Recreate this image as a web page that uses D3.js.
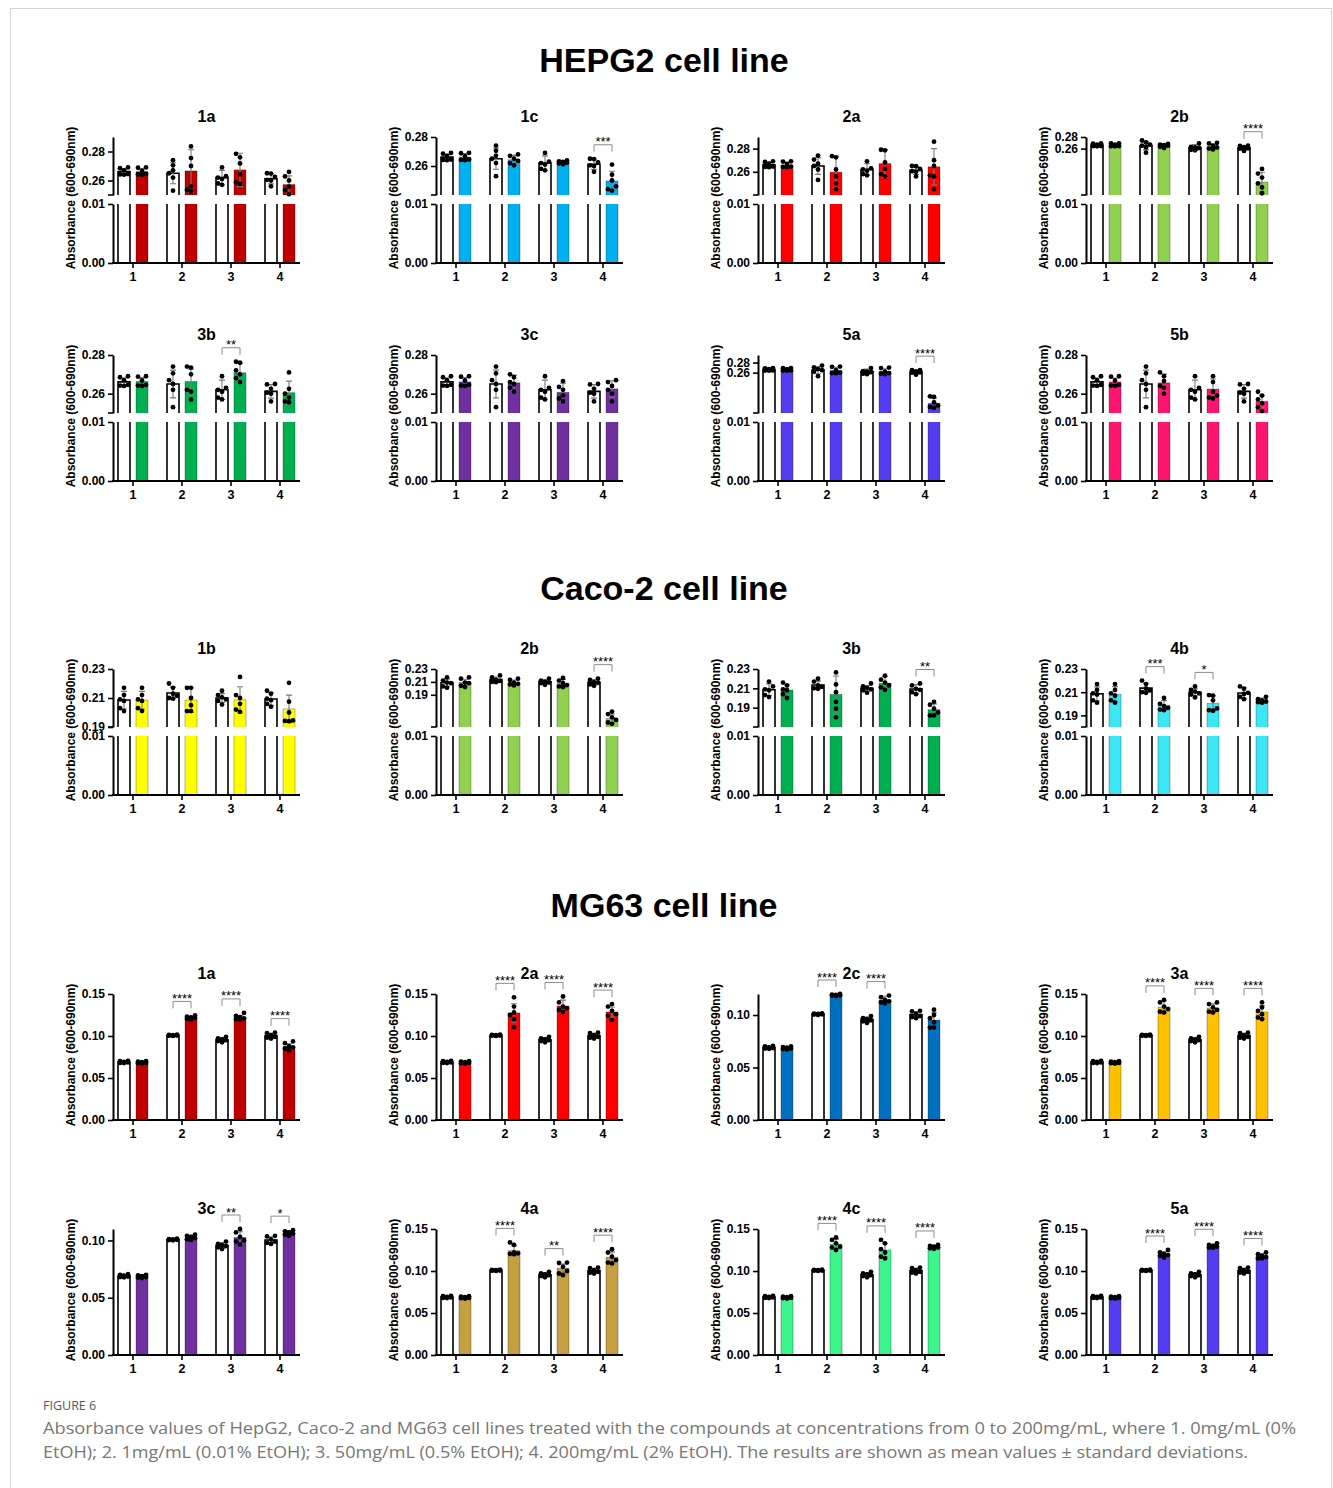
<!DOCTYPE html>
<html>
<head>
<meta charset="utf-8">
<script src="https://cdn.jsdelivr.net/npm/d3@7"></script>
<style>
  body { margin: 0; background: #fff; }
  svg { display: block; }
</style>
</head>
<body>
<svg id="fig" width="1333" height="1488"></svg>
<script>
var FONT = '"Liberation Sans", Arial, sans-serif';
var groups = ["1", "2", "3", "4"];

// ---------- HEPG2 ----------
var hepCtrlMean = [0.2661, 0.2650, 0.2620, 0.2612];
var hepCtrlSD = [0.0020, 0.0072, 0.0050, 0.0035];
var hepCtrlPts = [[0.2690, 0.2685, 0.2670, 0.2645, 0.2642, 0.2640],
                  [0.2740, 0.2705, 0.2670, 0.2650, 0.2620, 0.2530],
                  [0.2690, 0.2630, 0.2620, 0.2610, 0.2580, 0.2570],
                  [0.2650, 0.2648, 0.2625, 0.2605, 0.2600, 0.2560]];
var hepT1Pts = [0.2690, 0.2688, 0.2668, 0.2645, 0.2642, 0.2640];

var hep1aMean = [0.2661, 0.2666, 0.2673, 0.2572];
var hep1aSD = [0.0020, 0.0146, 0.0115, 0.0060];
var hep1aPts = [hepT1Pts, [0.2835, 0.2755, 0.2700, 0.2560, 0.2535, 0.2525],
                [0.2784, 0.2760, 0.2718, 0.2642, 0.2588, 0.2576], [0.2659, 0.2628, 0.2600, 0.2558, 0.2534, 0.2506]];
var hep1aSig = ["", "", "", ""];

var hep1cMean = [0.2661, 0.2643, 0.2625, 0.2497];
var hep1cSD = [0.0025, 0.0030, 0.0012, 0.0067];
var hep1cPts = [hepT1Pts, [0.2680, 0.2670, 0.2650, 0.2635, 0.2620, 0.2605],
                [0.2638, 0.2632, 0.2628, 0.2622, 0.2618, 0.2612], [0.2610, 0.2540, 0.2500, 0.2460, 0.2430, 0.2440]];
var hep1cSig = ["", "", "", "***"];

var hep2aMean = [0.2657, 0.2597, 0.2671, 0.2643];
var hep2aSD = [0.0022, 0.0136, 0.0120, 0.0157];
var hep2aPts = [hepT1Pts, [0.2735, 0.2725, 0.2620, 0.2560, 0.2500, 0.2450],
                [0.2790, 0.2785, 0.2680, 0.2625, 0.2580, 0.2560], [0.2860, 0.2700, 0.2650, 0.2570, 0.2560, 0.2450]];
var hep2aSig = ["", "", "", ""];

var hep2bMean = [0.2661, 0.2650, 0.2640, 0.2023];
var hep2bSD = [0.0020, 0.0030, 0.0035, 0.0170];
var hep2bPts = [hepT1Pts, [0.2680, 0.2670, 0.2660, 0.2650, 0.2630, 0.2610],
                [0.2700, 0.2690, 0.2650, 0.2620, 0.2600, 0.2585], [0.2250, 0.2170, 0.2100, 0.2000, 0.1930, 0.1830]];
var hep2bSig = ["", "", "", "****"];

var hep3bMean = [0.2663, 0.2663, 0.2708, 0.2605];
var hep3bSD = [0.0020, 0.0063, 0.0050, 0.0060];
var hep3bPts = [hepT1Pts, [0.2740, 0.2735, 0.2700, 0.2620, 0.2610, 0.2570],
                [0.2765, 0.2760, 0.2720, 0.2700, 0.2680, 0.2660], [0.2710, 0.2625, 0.2600, 0.2580, 0.2560, 0.2555]];
var hep3bSig = ["", "", "**", ""];

var hep3cMean = [0.2661, 0.2656, 0.2607, 0.2625];
var hep3cSD = [0.0022, 0.0040, 0.0047, 0.0042];
var hep3cPts = [hepT1Pts, [0.2700, 0.2685, 0.2660, 0.2650, 0.2630, 0.2610],
                [0.2665, 0.2635, 0.2620, 0.2590, 0.2575, 0.2560], [0.2670, 0.2660, 0.2640, 0.2620, 0.2600, 0.2560]];
var hep3cSig = ["", "", "", ""];

var hep5aMean = [0.2661, 0.2644, 0.2625, 0.1990];
var hep5aSD = [0.0020, 0.0062, 0.0052, 0.0100];
var hep5aPts = [hepT1Pts, [0.2720, 0.2715, 0.2650, 0.2600, 0.2590, 0.2590],
                [0.2700, 0.2690, 0.2620, 0.2590, 0.2580, 0.2570], [0.2130, 0.2120, 0.2010, 0.1950, 0.1920, 0.1900]];
var hep5aSig = ["", "", "", "****"];

var hep5bMean = [0.2661, 0.2656, 0.2624, 0.2560];
var hep5bSD = [0.0020, 0.0045, 0.0052, 0.0030];
var hep5bPts = [hepT1Pts, [0.2710, 0.2690, 0.2665, 0.2640, 0.2630, 0.2600],
                [0.2690, 0.2660, 0.2610, 0.2590, 0.2580, 0.2575], [0.2610, 0.2590, 0.2570, 0.2550, 0.2530, 0.2510]];
var hep5bSig = ["", "", "", ""];

// ---------- Caco-2 ----------
var cacoCtrlMean = [0.2086, 0.2135, 0.2100, 0.2093];
var cacoCtrlSD = [0.0060, 0.0040, 0.0030, 0.0045];
var cacoCtrlPts = [[0.2170, 0.2120, 0.2090, 0.2080, 0.2030, 0.2010],
                   [0.2200, 0.2170, 0.2130, 0.2115, 0.2100, 0.2095],
                   [0.2150, 0.2120, 0.2105, 0.2090, 0.2080, 0.2055],
                   [0.2150, 0.2130, 0.2095, 0.2085, 0.2060, 0.2040]];

var caco1bMean = [0.2086, 0.2086, 0.2088, 0.2025];
var caco1bSD = [0.0060, 0.0085, 0.0090, 0.0095];
var caco1bPts = [[0.2170, 0.2120, 0.2090, 0.2080, 0.2030, 0.2010], [0.2170, 0.2170, 0.2100, 0.2050, 0.2010, 0.2010],
                 [0.2245, 0.2120, 0.2100, 0.2060, 0.2020, 0.2005], [0.2205, 0.2075, 0.2000, 0.1945, 0.1942, 0.1940]];
var caco1bSig = ["", "", "", ""];

var caco2bMean = [0.2092, 0.2090, 0.2077, 0.1532];
var caco2bSD = [0.0050, 0.0040, 0.0060, 0.0070];
var caco2bPts = [[0.2170, 0.2150, 0.2090, 0.2080, 0.2040, 0.2020], [0.2150, 0.2130, 0.2090, 0.2070, 0.2060, 0.2045],
                 [0.2160, 0.2120, 0.2080, 0.2050, 0.2030, 0.2020], [0.1640, 0.1600, 0.1550, 0.1510, 0.1470, 0.1450]];
var caco2bSig = ["", "", "", "****"];

var caco3bMean = [0.2082, 0.2037, 0.2153, 0.1879];
var caco3bSD = [0.0055, 0.0190, 0.0070, 0.0060];
var caco3bPts = [[0.2160, 0.2130, 0.2090, 0.2080, 0.2040, 0.2000], [0.2265, 0.2140, 0.2060, 0.1960, 0.1890, 0.1800],
                 [0.2230, 0.2190, 0.2160, 0.2130, 0.2110, 0.2085], [0.1960, 0.1930, 0.1890, 0.1850, 0.1820, 0.1820]];
var caco3bSig = ["", "", "", "**"];

var caco4bMean = [0.2083, 0.1987, 0.2004, 0.2025];
var caco4bSD = [0.0065, 0.0040, 0.0065, 0.0025];
var caco4bPts = [[0.2170, 0.2120, 0.2090, 0.2070, 0.2030, 0.2010], [0.2050, 0.2000, 0.1980, 0.1965, 0.1950, 0.1945],
                 [0.2075, 0.2070, 0.2030, 0.1960, 0.1945, 0.1940], [0.2060, 0.2040, 0.2030, 0.2020, 0.2015, 0.2010]];
var caco4bSig = ["", "***", "*", ""];

// ---------- MG63 ----------
var mgCtrlMean = [0.0690, 0.1008, 0.0956, 0.1004];
var mgCtrlSD = [0.0015, 0.0008, 0.0025, 0.0028];
var mgCtrlPts = [[0.0705, 0.0700, 0.0692, 0.0685, 0.0680, 0.0678],
                 [0.1015, 0.1012, 0.1010, 0.1006, 0.1004, 0.1001],
                 [0.0990, 0.0970, 0.0960, 0.0950, 0.0940, 0.0925],
                 [0.1040, 0.1035, 0.1010, 0.0990, 0.0980, 0.0970]];
var mgT1Pts = [0.0700, 0.0695, 0.0688, 0.0680, 0.0676, 0.0672];

var mg1aMean = [0.0685, 0.1218, 0.1222, 0.0877];
var mg1aSD = [0.0015, 0.0015, 0.0020, 0.0030];
var mg1aPts = [mgT1Pts, [0.1245, 0.1230, 0.1220, 0.1215, 0.1205, 0.1195],
               [0.1275, 0.1240, 0.1225, 0.1210, 0.1200, 0.1195], [0.0935, 0.0915, 0.0880, 0.0865, 0.0850, 0.0830]];
var mg1aSig = ["", "****", "****", "****"];

var mg2aMean = [0.0685, 0.1274, 0.1357, 0.1286];
var mg2aSD = [0.0015, 0.0110, 0.0070, 0.0060];
var mg2aPts = [mgT1Pts, [0.1460, 0.1350, 0.1280, 0.1250, 0.1200, 0.1105],
               [0.1470, 0.1400, 0.1350, 0.1330, 0.1310, 0.1285], [0.1380, 0.1350, 0.1300, 0.1260, 0.1240, 0.1190]];
var mg2aSig = ["", "****", "****", "****"];

var mg2cMean = [0.0685, 0.1190, 0.1143, 0.0952];
var mg2cSD = [0.0015, 0.0010, 0.0035, 0.0070];
var mg2cPts = [mgT1Pts, [0.1200, 0.1195, 0.1192, 0.1188, 0.1185, 0.1180],
               [0.1185, 0.1170, 0.1145, 0.1130, 0.1120, 0.1110], [0.1050, 0.1000, 0.0970, 0.0930, 0.0880, 0.0880]];
var mg2cSig = ["", "****", "****", ""];

var mg3aMean = [0.0685, 0.1345, 0.1333, 0.1286];
var mg3aSD = [0.0015, 0.0075, 0.0050, 0.0075];
var mg3aPts = [mgT1Pts, [0.1430, 0.1400, 0.1350, 0.1320, 0.1290, 0.1280],
               [0.1400, 0.1380, 0.1340, 0.1310, 0.1290, 0.1280], [0.1400, 0.1340, 0.1300, 0.1260, 0.1220, 0.1200]];
var mg3aSig = ["", "****", "****", "****"];

var mg3cMean = [0.0685, 0.1026, 0.1026, 0.1065];
var mg3cSD = [0.0015, 0.0020, 0.0050, 0.0020];
var mg3cPts = [mgT1Pts, [0.1050, 0.1040, 0.1030, 0.1020, 0.1010, 0.1005],
               [0.1100, 0.1070, 0.1030, 0.1000, 0.0990, 0.0965], [0.1090, 0.1080, 0.1070, 0.1060, 0.1050, 0.1040]];
var mg3cSig = ["", "", "**", "*"];

var mg4aMean = [0.0685, 0.1242, 0.1032, 0.1163];
var mg4aSD = [0.0015, 0.0060, 0.0050, 0.0065];
var mg4aPts = [mgT1Pts, [0.1340, 0.1310, 0.1220, 0.1210, 0.1205, 0.1200],
               [0.1100, 0.1095, 0.1050, 0.1000, 0.0970, 0.0950], [0.1260, 0.1220, 0.1170, 0.1130, 0.1100, 0.1090]];
var mg4aSig = ["", "****", "**", "****"];

var mg4cMean = [0.0685, 0.1320, 0.1250, 0.1286];
var mg4cSD = [0.0015, 0.0060, 0.0080, 0.0020];
var mg4cPts = [mgT1Pts, [0.1400, 0.1370, 0.1330, 0.1290, 0.1280, 0.1250],
               [0.1370, 0.1330, 0.1260, 0.1220, 0.1170, 0.1150], [0.1310, 0.1300, 0.1290, 0.1280, 0.1270, 0.1265]];
var mg4cSig = ["", "****", "****", "****"];

var mg5aMean = [0.0685, 0.1200, 0.1298, 0.1178];
var mg5aSD = [0.0015, 0.0030, 0.0020, 0.0030];
var mg5aPts = [mgT1Pts, [0.1250, 0.1220, 0.1205, 0.1190, 0.1180, 0.1160],
               [0.1330, 0.1310, 0.1300, 0.1290, 0.1280, 0.1278], [0.1220, 0.1200, 0.1180, 0.1165, 0.1150, 0.1150]];
var mg5aSig = ["", "****", "****", "****"];

// axis ticks
var hepTicks = [0.26, 0.28];
var cacoTicks = [0.19, 0.21, 0.23];
var lowTicks = [0.00, 0.01];
var mgTicks15 = [0.00, 0.05, 0.10, 0.15];
var mgTicks10 = [0.00, 0.05, 0.10];

var caption1 = "Absorbance values of HepG2, Caco-2 and MG63 cell lines treated with the compounds at concentrations from 0 to 200mg/mL, where 1. 0mg/mL (0%";
var caption2 = "EtOH); 2. 1mg/mL (0.01% EtOH); 3. 50mg/mL (0.5% EtOH); 4. 200mg/mL (2% EtOH). The results are shown as mean values \u00B1 standard deviations.";

// ---------- panel tables ----------
var hepCtrl = {mean: hepCtrlMean, sd: hepCtrlSD, pts: hepCtrlPts};
var cacoCtrl = {mean: cacoCtrlMean, sd: cacoCtrlSD, pts: cacoCtrlPts};
var mgCtrl = {mean: mgCtrlMean, sd: mgCtrlSD, pts: mgCtrlPts};

function P(name, color, mean, sd, pts, sig, dom, ticks) {
    return {name: name, color: color, mean: mean, sd: sd, pts: pts, sig: sig, dom: dom, ticks: ticks};
}

var hepRow1 = [P("1a", "#C00000", hep1aMean, hep1aSD, hep1aPts, hep1aSig, [0.25, 0.29], hepTicks),
               P("1c", "#00B0F0", hep1cMean, hep1cSD, hep1cPts, hep1cSig, [0.24, 0.28], hepTicks),
               P("2a", "#FF0000", hep2aMean, hep2aSD, hep2aPts, hep2aSig, [0.24, 0.29], hepTicks),
               P("2b", "#92D050", hep2bMean, hep2bSD, hep2bPts, hep2bSig, [0.18, 0.28], hepTicks)];
var hepRow2 = [P("3b", "#00B050", hep3bMean, hep3bSD, hep3bPts, hep3bSig, [0.25, 0.28], hepTicks),
               P("3c", "#7030A0", hep3cMean, hep3cSD, hep3cPts, hep3cSig, [0.25, 0.28], hepTicks),
               P("5a", "#543CF0", hep5aMean, hep5aSD, hep5aPts, hep5aSig, [0.18, 0.295], hepTicks),
               P("5b", "#FF1470", hep5bMean, hep5bSD, hep5bPts, hep5bSig, [0.25, 0.28], hepTicks)];
var cacoRow = [P("1b", "#FFFF00", caco1bMean, caco1bSD, caco1bPts, caco1bSig, [0.19, 0.23], cacoTicks),
               P("2b", "#92D050", caco2bMean, caco2bSD, caco2bPts, caco2bSig, [0.14, 0.23], cacoTicks),
               P("3b", "#00B050", caco3bMean, caco3bSD, caco3bPts, caco3bSig, [0.17, 0.23], cacoTicks),
               P("4b", "#3CE6F5", caco4bMean, caco4bSD, caco4bPts, caco4bSig, [0.18, 0.23], cacoTicks)];
var mgRow1 = [P("1a", "#C00000", mg1aMean, mg1aSD, mg1aPts, mg1aSig, [0, 0.15], mgTicks15),
              P("2a", "#FF0000", mg2aMean, mg2aSD, mg2aPts, mg2aSig, [0, 0.15], mgTicks15),
              P("2c", "#0070C0", mg2cMean, mg2cSD, mg2cPts, mg2cSig, [0, 0.12], mgTicks10),
              P("3a", "#FFC000", mg3aMean, mg3aSD, mg3aPts, mg3aSig, [0, 0.15], mgTicks15)];
var mgRow2 = [P("3c", "#7030A0", mg3cMean, mg3cSD, mg3cPts, mg3cSig, [0, 0.11], mgTicks10),
              P("4a", "#C4A040", mg4aMean, mg4aSD, mg4aPts, mg4aSig, [0, 0.15], mgTicks15),
              P("4c", "#3CF58C", mg4cMean, mg4cSD, mg4cPts, mg4cSig, [0, 0.15], mgTicks15),
              P("5a", "#543CF0", mg5aMean, mg5aSD, mg5aPts, mg5aSig, [0, 0.15], mgTicks15)];

// ---------- drawing ----------
var svg = d3.select("#fig");
svg.append("rect").attr("x", 10.5).attr("y", 8.5).attr("width", 1321).attr("height", 1500)
    .attr("fill", "none").attr("stroke", "#d4d4d4");

var colX = [113, 436, 758, 1086];
var plotW = 187;
var sub = d3.scaleBand().domain(["ctrl", "treat"]).range([-15, 15]).paddingInner(1 / 3);

// small beeswarm so dots at the same height sit side by side
function swarm(vals, y) {
    var placed = [];
    vals.slice().sort(d3.ascending).forEach(function (v) {
        var py = y(v), pick = null, bestD = -1, bestDx = 0;
        [0, -4, 4].forEach(function (dx) {
            var d = placed.length ? d3.min(placed, function (p) { return Math.hypot(p.dx - dx, p.py - py); }) : 99;
            if (pick === null && d >= 4.6) pick = dx;
            if (d > bestD) { bestD = d; bestDx = dx; }
        });
        placed.push({dx: pick === null ? bestDx : pick, py: py});
    });
    return placed;
}

function styleAxis(g) {
    g.attr("font-family", FONT).attr("font-weight", "bold").attr("font-size", 12);
    g.select(".domain").attr("stroke", "#000").attr("stroke-width", 2);
    g.selectAll(".tick line").attr("stroke", "#000").attr("stroke-width", 1.6);
    g.selectAll(".tick text").attr("fill", "#000");
}

function drawSegment(g, seg, p, ctrl, cx, ox, upper) {
    var y = d3.scaleLinear().domain(seg.dom).range([seg.y1, seg.y0]);
    var yAxis = d3.axisLeft(y).tickValues(seg.ticks).tickFormat(d3.format(".2f")).tickSize(5).tickSizeOuter(0);
    var ga = g.append("g").attr("transform", "translate(" + ox + ",0)").call(yAxis);
    styleAxis(ga);
    if (upper) {
        g.append("line").attr("x1", ox - 5).attr("x2", ox).attr("y1", seg.y1).attr("y2", seg.y1)
            .attr("stroke", "#000").attr("stroke-width", 1.6);
    }
    var tops = {};
    groups.forEach(function (k, i) {
        ["ctrl", "treat"].forEach(function (kind) {
            var src = kind === "ctrl" ? ctrl : p;
            var m = src.mean[i], s = src.sd[i], pts = src.pts[i];
            if (m <= seg.dom[0]) return;
            var open = m > seg.dom[1];
            var w = sub.bandwidth(), xl = cx(k) + sub(kind), ytop = open ? seg.y0 : y(m);
            g.append("rect").attr("x", xl).attr("y", ytop).attr("width", w).attr("height", seg.y1 - ytop)
                .attr("fill", kind === "ctrl" ? "#fff" : p.color);
            var pa = d3.path();
            pa.moveTo(xl, seg.y1); pa.lineTo(xl, ytop);
            if (open) pa.moveTo(xl + w, ytop); else pa.lineTo(xl + w, ytop);
            pa.lineTo(xl + w, seg.y1);
            g.append("path").attr("d", pa.toString()).attr("fill", "none")
                .attr("stroke", kind === "ctrl" ? "#000" : "rgba(0,0,0,0.35)")
                .attr("stroke-width", kind === "ctrl" ? 1.6 : 0.8);
            if (open) return;
            var bc = xl + w / 2;
            var lo = m - s, e0 = y(Math.max(lo, seg.dom[0])), e1 = y(m + s);
            var eb = d3.path();
            eb.moveTo(bc, e0); eb.lineTo(bc, e1);
            eb.moveTo(bc - 3, e1); eb.lineTo(bc + 3, e1);
            if (lo >= seg.dom[0]) { eb.moveTo(bc - 3, e0); eb.lineTo(bc + 3, e0); }
            g.append("path").attr("d", eb.toString()).attr("fill", "none")
                .attr("stroke", "#7a7a7a").attr("stroke-width", 1.1);
            g.selectAll(null).data(swarm(pts, y)).join("circle")
                .attr("cx", function (d) { return bc + d.dx; })
                .attr("cy", function (d) { return d.py; })
                .attr("r", 2.4).attr("fill", "#000");
            tops[k + kind] = {x: bc, y: Math.min(e1, y(d3.max(pts)))};
        });
        var a = tops[k + "ctrl"], b = tops[k + "treat"];
        if (p.sig[i] && a && b) {
            var by = Math.min(a.y, b.y) - 14;
            g.append("path").attr("d", "M" + a.x + "," + (by + 7) + "V" + by + "H" + b.x + "V" + (by + 7))
                .attr("fill", "none").attr("stroke", "#8c8c8c").attr("stroke-width", 1);
            g.append("text").attr("x", (a.x + b.x) / 2).attr("y", by + 1.5).attr("text-anchor", "middle")
                .attr("font-family", FONT).attr("font-size", 13).attr("fill", "#000").text(p.sig[i]);
        }
    });
}

function drawPanel(p, ctrl, ox, row) {
    var g = svg.append("g");
    var x = d3.scaleBand().domain(groups).range([ox - 4.5, ox + plotW + 4.5]);
    var cx = function (k) { return x(k) + x.bandwidth() / 2; };

    if (row.broken) {
        drawSegment(g, {y0: row.top, y1: row.top + 58, dom: p.dom, ticks: p.ticks}, p, ctrl, cx, ox, true);
        drawSegment(g, {y0: row.top + 67, y1: row.bottom, dom: [0, 0.01], ticks: lowTicks}, p, ctrl, cx, ox, false);
    } else {
        drawSegment(g, {y0: row.top, y1: row.bottom, dom: p.dom, ticks: p.ticks}, p, ctrl, cx, ox, false);
    }

    var gx = g.append("g").attr("transform", "translate(0," + row.bottom + ")")
        .call(d3.axisBottom(x).tickSize(5).tickSizeOuter(0));
    styleAxis(gx);
    gx.attr("font-size", 12.5);
    gx.selectAll(".tick text").attr("y", 9.5);
    gx.select(".domain").remove();
    gx.append("line").attr("x1", ox - 1).attr("x2", ox + plotW).attr("stroke", "#000").attr("stroke-width", 2);

    g.append("text").attr("transform", "translate(" + (ox - 42) + "," + ((row.top + row.bottom) / 2 - 2) + ") rotate(-90)")
        .attr("dy", "0.35em").attr("text-anchor", "middle")
        .attr("font-family", FONT).attr("font-weight", "bold").attr("font-size", 12)
        .text("Absorbance (600-690nm)");
    g.append("text").attr("x", ox + 93.5).attr("y", row.top - 15).attr("text-anchor", "middle")
        .attr("font-family", FONT).attr("font-weight", "bold").attr("font-size", 16).text(p.name);
}

function drawRow(panels, ctrl, row) {
    panels.forEach(function (p, j) { drawPanel(p, ctrl, colX[j], row); });
}

function heading(txt, y) {
    svg.append("text").attr("x", 664).attr("y", y).attr("text-anchor", "middle")
        .attr("font-family", FONT).attr("font-weight", "bold").attr("font-size", 34).text(txt);
}

heading("HEPG2 cell line", 72);
drawRow(hepRow1, hepCtrl, {broken: true, top: 137, bottom: 263});
drawRow(hepRow2, hepCtrl, {broken: true, top: 355, bottom: 481});
heading("Caco-2 cell line", 600);
drawRow(cacoRow, cacoCtrl, {broken: true, top: 669, bottom: 795});
heading("MG63 cell line", 917);
drawRow(mgRow1, mgCtrl, {broken: false, top: 994, bottom: 1120});
drawRow(mgRow2, mgCtrl, {broken: false, top: 1229, bottom: 1355});

// caption
svg.append("text").attr("x", 43).attr("y", 1410).attr("font-family", '"Open Sans", sans-serif')
    .attr("font-size", 12.5).attr("fill", "#5a5a5a").text("FIGURE 6");
svg.append("text").attr("x", 43).attr("y", 1434).attr("font-family", '"Open Sans", sans-serif')
    .attr("font-size", 17).attr("fill", "#777")
    .attr("textLength", 1253).attr("lengthAdjust", "spacingAndGlyphs").text(caption1);
svg.append("text").attr("x", 43).attr("y", 1458).attr("font-family", '"Open Sans", sans-serif')
    .attr("font-size", 17).attr("fill", "#777")
    .attr("textLength", 1205).attr("lengthAdjust", "spacingAndGlyphs").text(caption2);
</script>
</body>
</html>
